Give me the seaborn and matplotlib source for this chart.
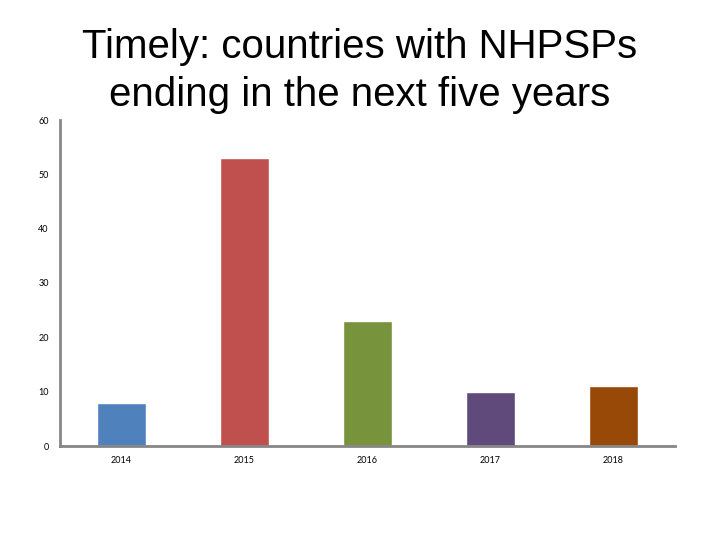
import matplotlib
matplotlib.use("Agg")
import matplotlib.pyplot as plt
import seaborn as sns
import pandas as pd

years = ["2014", "2015", "2016", "2017", "2018"]
counts = [8, 53, 23, 10, 11]
colors = ["#4F81BD", "#C0504D", "#77933C", "#604A7B", "#984807"]
yticks = [0, 10, 20, 30, 40, 50, 60]
title = "Timely: countries with NHPSPs\nending in the next five years"

sns.set_theme(style="white")
plt.rcParams['font.family'] = ['Liberation Sans', 'DejaVu Sans']

df = pd.DataFrame({"year": years, "count": counts})

fig = plt.figure(figsize=(7.2, 5.4), dpi=100)
ax = fig.add_axes([60/720, 1-446/540, 615/720, 326/540])
sns.barplot(data=df, x="year", y="count", hue="year", palette=colors,
            legend=False, width=0.4, ax=ax, saturation=1)
ax.set_xlim(-0.5, 4.5)
ax.set_ylim(0, 60)
ax.set_yticks(yticks)
ax.set_xlabel("")
ax.set_ylabel("")
for s in ["top", "right"]:
    ax.spines[s].set_visible(False)
for s in ["left", "bottom"]:
    ax.spines[s].set_color("#868686")
    ax.spines[s].set_linewidth(2)
ax.tick_params(axis="both", length=0, labelsize=6.5, colors="#000000")
ax.tick_params(axis="y", pad=8)
ax.tick_params(axis="x", pad=7)
for lbl in ax.get_xticklabels() + ax.get_yticklabels():
    lbl.set_family(['Lato', 'DejaVu Sans'])

fig.text(0.5, 1-71/540, title, ha="center", va="center", fontsize=29,
         linespacing=1.3, color="#000000")

fig.savefig("out.png", dpi=100)
